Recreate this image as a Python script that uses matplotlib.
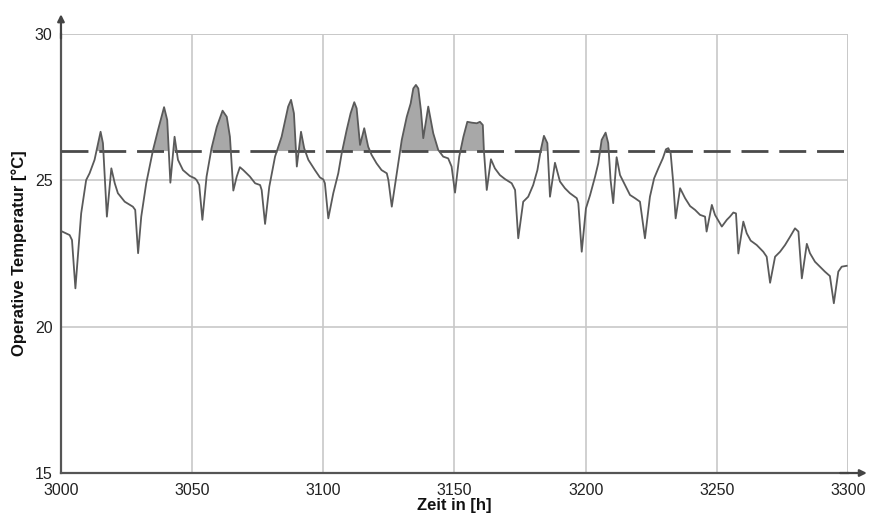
import matplotlib
matplotlib.use("Agg")
import matplotlib.pyplot as plt
import numpy as np

hours = [3000.0, 3003.3, 3004.2, 3005.5, 3006.7, 3007.7, 3009.6, 3010.9, 3012.8, 3015.1,
         3016.0, 3017.5, 3019.2, 3020.5, 3021.7, 3024.3, 3027.4, 3028.3, 3029.4, 3030.6,
         3032.5, 3035.1, 3037.0, 3039.3, 3040.5, 3041.7, 3043.3, 3044.6, 3046.5, 3049.1,
         3051.0, 3051.7, 3052.7, 3053.9, 3055.5, 3057.4, 3059.4, 3061.6, 3063.2, 3064.4,
         3065.7, 3067.0, 3068.2, 3069.5, 3072.0, 3074.0, 3075.9, 3076.5, 3077.8, 3079.4,
         3081.6, 3084.1, 3086.6, 3087.7, 3088.8, 3089.9, 3091.5, 3092.7, 3094.3, 3096.8,
         3098.7, 3100.0, 3100.6, 3101.9, 3103.8, 3105.7, 3107.0, 3108.9, 3110.4, 3111.8,
         3112.7, 3114.0, 3115.6, 3117.1, 3118.4, 3120.3, 3122.2, 3124.2, 3124.8, 3126.1,
         3128.0, 3129.9, 3131.8, 3133.3, 3134.3, 3135.3, 3136.2, 3137.2, 3138.1, 3140.0,
         3141.9, 3143.8, 3145.7, 3147.6, 3148.9, 3150.2, 3151.8, 3153.4, 3154.9, 3156.6,
         3158.5, 3159.7, 3160.8, 3161.2, 3162.3, 3163.9, 3165.4, 3167.3, 3169.3, 3171.8,
         3173.1, 3174.3, 3176.2, 3178.1, 3180.0, 3181.6, 3182.9, 3184.1, 3185.4, 3186.4,
         3188.3, 3190.2, 3192.1, 3194.0, 3196.6, 3197.2, 3198.5, 3200.1, 3201.7, 3203.6,
         3204.8, 3206.1, 3207.6, 3208.6, 3209.5, 3210.5, 3211.8, 3213.1, 3215.0, 3216.9,
         3218.8, 3220.7, 3222.6, 3224.5, 3226.1, 3227.7, 3229.4, 3230.6, 3231.5, 3232.4,
         3233.4, 3234.3, 3236.0, 3237.9, 3239.8, 3241.7, 3243.6, 3245.5, 3246.1, 3248.1,
         3249.3, 3251.9, 3253.8, 3255.0, 3256.3, 3257.3, 3258.2, 3260.1, 3261.4, 3262.9,
         3265.2, 3267.7, 3269.0, 3270.3, 3272.2, 3274.1, 3276.0, 3277.9, 3279.8, 3281.1,
         3282.4, 3284.3, 3285.5, 3287.4, 3289.3, 3291.2, 3293.1, 3294.6, 3296.3, 3297.6,
         3299.5]

temperature = [23.27, 23.13, 22.96, 21.31, 22.73, 23.87, 25.01, 25.24, 25.70, 26.66,
               26.27, 23.76, 25.41, 24.90, 24.56, 24.27, 24.10, 23.99, 22.51, 23.76,
               24.90, 26.04, 26.72, 27.50, 27.06, 24.92, 26.49, 25.70, 25.35, 25.15,
               25.07, 25.01, 24.84, 23.65, 25.13, 26.10, 26.83, 27.38, 27.17, 26.49,
               24.65, 25.13, 25.45, 25.35, 25.13, 24.90, 24.84, 24.67, 23.51, 24.78,
               25.81, 26.49, 27.52, 27.75, 27.29, 25.47, 26.66, 26.10, 25.70, 25.35,
               25.10, 25.03, 24.90, 23.70, 24.56, 25.24, 25.92, 26.72, 27.29, 27.67,
               27.46, 26.21, 26.78, 26.15, 25.87, 25.58, 25.35, 25.24, 25.01, 24.10,
               25.24, 26.38, 27.17, 27.63, 28.14, 28.26, 28.14, 27.40, 26.44, 27.52,
               26.61, 26.04, 25.81, 25.75, 25.47, 24.58, 25.81, 26.49, 27.00, 26.97,
               26.95, 27.00, 26.89, 26.04, 24.67, 25.72, 25.41, 25.18, 25.04, 24.90,
               24.67, 23.02, 24.27, 24.44, 24.84, 25.35, 26.04, 26.52, 26.27, 24.44,
               25.60, 24.96, 24.73, 24.56, 24.39, 24.22, 22.56, 24.04, 24.50, 25.13,
               25.58, 26.38, 26.63, 26.27, 25.01, 24.22, 25.79, 25.18, 24.84, 24.50,
               24.39, 24.27, 23.02, 24.44, 25.07, 25.41, 25.75, 26.06, 26.10, 25.92,
               24.90, 23.70, 24.73, 24.39, 24.12, 23.99, 23.82, 23.76, 23.25, 24.16,
               23.82, 23.42, 23.65, 23.76, 23.90, 23.87, 22.50, 23.59, 23.19, 22.94,
               22.79, 22.56, 22.39, 21.50, 22.39, 22.56, 22.79, 23.07, 23.36, 23.25,
               21.65, 22.83, 22.51, 22.22, 22.05, 21.88, 21.73, 20.80, 21.88, 22.05,
               22.08]

threshold = 26.0
x_ticks = [3000, 3050, 3100, 3150, 3200, 3250, 3300]
y_ticks = [15, 20, 25, 30]
x_label = "Zeit in [h]"
y_label = "Operative Temperatur [°C]"

plt.rcParams['font.family'] = ['Liberation Sans', 'DejaVu Sans']

fig = plt.figure(figsize=(8.71, 5.19), dpi=100)
ax = fig.add_axes([0.070, 0.0886, 0.9036, 0.8459])

x = np.array(hours)
y = np.array(temperature)

ax.set_xlim(3000, 3300)
ax.set_ylim(15, 30)
ax.set_xticks(x_ticks)
ax.set_yticks(y_ticks)
ax.grid(True, color='#c8c8c8', linewidth=1.2)
ax.set_axisbelow(True)
ax.tick_params(length=0, labelsize=11.5, colors='#222222')
ax.tick_params(axis='x', pad=7)
ax.tick_params(axis='y', pad=6)

for s in ['top', 'right']:
    ax.spines[s].set_visible(False)
for s in ['left', 'bottom']:
    ax.spines[s].set_color('#555555')
    ax.spines[s].set_linewidth(1.6)

# top and right grid lines (frame)
ax.axhline(30, color='#c8c8c8', linewidth=1.2, zorder=0)
ax.axvline(3300, color='#c8c8c8', linewidth=1.2, zorder=0)

ax.fill_between(x, y, threshold, where=y > threshold, interpolate=True,
                color='#a8a8a8', linewidth=0, zorder=2)
ax.axhline(threshold, color='#4a4a4a', linewidth=2.0, linestyle=(0, (9.7, 3.9)), zorder=3)
ax.plot(x, y, color='#5a5a5a', linewidth=1.3, zorder=4)

# arrows at axis ends
ax.annotate('', xy=(0, 1.045), xytext=(0, 0.99), xycoords='axes fraction',
            arrowprops=dict(arrowstyle='-|>', color='#444444', lw=1.6,
                            mutation_scale=10, shrinkA=0, shrinkB=0), annotation_clip=False)
ax.annotate('', xy=(1.024, 0), xytext=(0.99, 0), xycoords='axes fraction',
            arrowprops=dict(arrowstyle='-|>', color='#444444', lw=1.6,
                            mutation_scale=10, shrinkA=0, shrinkB=0), annotation_clip=False)

ax.set_xlabel(x_label, fontsize=12, fontweight='bold', labelpad=0, color='#111111')
ax.set_ylabel(y_label, fontsize=12, fontweight='bold', labelpad=6, color='#111111')

fig.savefig('out.png', dpi=100)
